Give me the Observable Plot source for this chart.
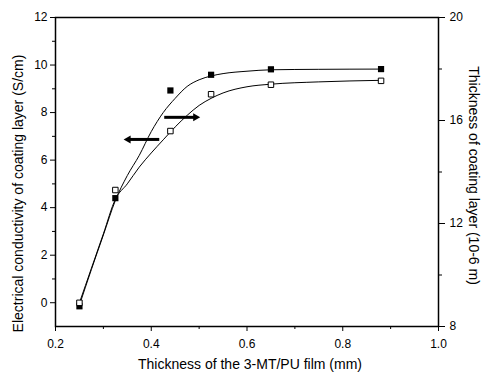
<!DOCTYPE html>
<html>
<head>
<meta charset="utf-8">
<script src="https://cdn.jsdelivr.net/npm/d3@7"></script>
<script src="https://cdn.jsdelivr.net/npm/@observablehq/plot@0.6"></script>
<style>
  html, body { margin: 0; padding: 0; background: white; }
</style>
</head>
<body>
<div id="chart"></div>
<script>
// Measured points
const filmThickness = [0.25, 0.325, 0.44, 0.525, 0.65, 0.88];
const conductivity = [-0.15, 4.4, 8.93, 9.59, 9.82, 9.83];        // left axis, S/cm
const coatingThickness = [8.92, 13.30, 15.59, 17.02, 17.39, 17.54]; // right axis, 10-6 m

// Fitted curves
const fitX = [0.25, 0.275, 0.30, 0.325, 0.35, 0.375, 0.40, 0.425, 0.45, 0.475, 0.50, 0.525, 0.55, 0.60, 0.65, 0.75, 0.88];
const conductivityFit = [-0.1, 1.4, 2.85, 4.3, 5.35, 6.2, 7.2, 8.0, 8.6, 9.1, 9.38, 9.54, 9.64, 9.74, 9.8, 9.82, 9.83];
const thicknessFit = [8.92, 10.26, 11.6, 12.94, 13.54, 14.19, 14.74, 15.25, 15.75, 16.2, 16.585, 16.86, 17.07, 17.31, 17.41, 17.5, 17.56];

// Axis arrows: tail x, head x, y (left-axis units)
const arrowTailX = [0.4167, 0.4271];
const arrowHeadX = [0.352, 0.4925];
const arrowY = [6.87, 7.80];
const arrowRotate = [-90, 90];

// Ticks
const xMajor = [0.2, 0.4, 0.6, 0.8, 1.0];
const xMinor = [0.3, 0.5, 0.7, 0.9];
const leftMajor = [0, 2, 4, 6, 8, 10, 12];
const leftMinor = [1, 3, 5, 7, 9, 11];
const rightMajor = [8, 12, 16, 20];
const rightMinor = [10, 14, 18];

const xTitle = "Thickness of the 3-MT/PU film (mm)";
const leftTitle = "Electrical conductivity of coating layer (S/cm)";
const rightTitle = "Thickness of coating layer (10-6 m)";

// right axis [8,20] maps onto left axis [-1,12]
const toLeft = r => -1 + (r - 8) * 13 / 12;
const toRight = l => 8 + (l + 1) * 12 / 13;

const points = filmThickness.map((x, i) => ({x, c: conductivity[i], t: toLeft(coatingThickness[i])}));
const fit = fitX.map((x, i) => ({x, c: conductivityFit[i], t: toLeft(thicknessFit[i])}));
const arrows = arrowY.map((y, i) => ({x1: arrowTailX[i], x2: arrowHeadX[i], y, rot: arrowRotate[i]}));

const chart = Plot.plot({
  width: 482,
  height: 374,
  marginLeft: 55,
  marginRight: 44,
  marginTop: 17,
  marginBottom: 48,
  style: {fontFamily: "'Liberation Sans', Arial, sans-serif", fontSize: "12px", background: "white", color: "black"},
  x: {domain: [0.2, 1.0]},
  y: {domain: [-1, 12]},
  marks: [
    Plot.axisX({ticks: xMajor, tickFormat: ".1f", tickSize: 5, tickPadding: 8, label: null}),
    Plot.axisX({ticks: xMinor, tickFormat: () => "", tickSize: 3, label: null}),
    Plot.axisY({ticks: leftMajor, tickSize: 5, tickPadding: 3, label: null}),
    Plot.axisY({ticks: leftMinor, tickFormat: () => "", tickSize: 3, label: null}),
    Plot.axisY({anchor: "right", ticks: rightMajor.map(toLeft), tickFormat: v => String(Math.round(toRight(v))), tickSize: 6, tickPadding: 5, label: null}),
    Plot.axisY({anchor: "right", ticks: rightMinor.map(toLeft), tickFormat: () => "", tickSize: 3, label: null}),
    Plot.frame({stroke: "black", strokeWidth: 1.5}),
    Plot.line(fit, {x: "x", y: "c", curve: "monotone-x", stroke: "black", strokeWidth: 1}),
    Plot.line(fit, {x: "x", y: "t", curve: "monotone-x", stroke: "black", strokeWidth: 1}),
    Plot.dot(points, {x: "x", y: "c", symbol: "square", r: 3.5, fill: "black", stroke: "none"}),
    Plot.dot(points, {x: "x", y: "t", symbol: "square", r: 3.1, fill: "white", stroke: "black", strokeWidth: 1}),
    Plot.link(arrows, {x1: "x1", x2: "x2", y1: "y", y2: "y", stroke: "black", strokeWidth: 3}),
    Plot.dot(arrows, {x: "x2", y: "y", symbol: "triangle", rotate: "rot", r: 3, fill: "black", stroke: "none"}),
    Plot.text([xTitle], {frameAnchor: "bottom", textAnchor: "middle", text: d => d, dx: 3, dy: 42, fontSize: 14, fill: "black"}),
    Plot.text([leftTitle], {frameAnchor: "left", textAnchor: "middle", text: d => d, rotate: -90, dx: -37, dy: 21.5, fontSize: 14, fill: "black"}),
    Plot.text([rightTitle], {frameAnchor: "right", textAnchor: "middle", text: d => d, rotate: 90, dx: 35, dy: 3.5, fontSize: 14, fill: "black"})
  ]
});
document.getElementById("chart").appendChild(chart);
</script>
</body>
</html>
